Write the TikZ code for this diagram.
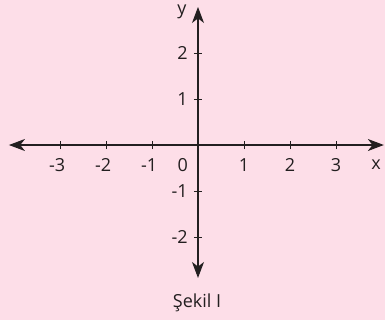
\documentclass[tikz,border=0pt]{standalone}
\usepackage{fontspec}
\setmainfont{Open Sans}
\usetikzlibrary{arrows.meta}
\definecolor{bgpink}{HTML}{FDDEE8}
\definecolor{axisgray}{HTML}{231F20}

\begin{document}
\begin{tikzpicture}[x=34.5pt, y=34.5pt,
    axis/.style = {draw=axisgray, line width=0.8pt, -{Stealth[length=12pt, width=9pt, inset=3.5pt]}},
    lbl/.style = {text=axisgray, font=\fontsize{13.5}{16}\selectfont, inner sep=0pt}]
    % Define dimensions
    \def\tickLen{0.09} % half length of a tick

    % Background
    \fill[bgpink] (-4.304,-3.804) rectangle (4.065,3.152);
    \useasboundingbox (-4.304,-3.804) rectangle (4.065,3.152);

    % Axes
    \coordinate (O) at (0,0);
    \coordinate (xl) at (-4.11,0);
    \coordinate (xr) at (4.04,0);
    \coordinate (yt) at (0,3.0);
    \coordinate (yb) at (0,-2.89);
    \draw[axis] (O) -- (xr);
    \draw[axis] (O) -- (xl);
    \draw[axis] (O) -- (yt);
    \draw[axis] (O) -- (yb);

    % Ticks and numbers on x
    \foreach \i/\t in {-3/{\llap{-}3}, -2/{\llap{-}2}, -1/{\llap{-}1}, 1/1, 2/2, 3/3} {
        \draw[axisgray, line width=0.6pt] (\i,-\tickLen) -- (\i,\tickLen);
        \node[lbl] (x\i) at (\i,-0.43) {\t};
    }
    % Ticks and numbers on y
    \foreach \i in {-2, -1, 1, 2} {
        \draw[axisgray, line width=0.6pt] (-\tickLen,\i) -- (\tickLen,\i);
        \node[lbl, anchor=east] (y\i) at (-0.22,\i) {\i};
    }

    %Labels
    \node[lbl] (zero) at (-0.33,-0.43) {0};
    \node[lbl] (xname) at (3.87,-0.43) {x};
    \node[lbl] (yname) at (-0.35,2.89) {y};
    \node[lbl] (caption) at (-0.02,-3.43) {Şekil I};

\end{tikzpicture}
\end{document}
